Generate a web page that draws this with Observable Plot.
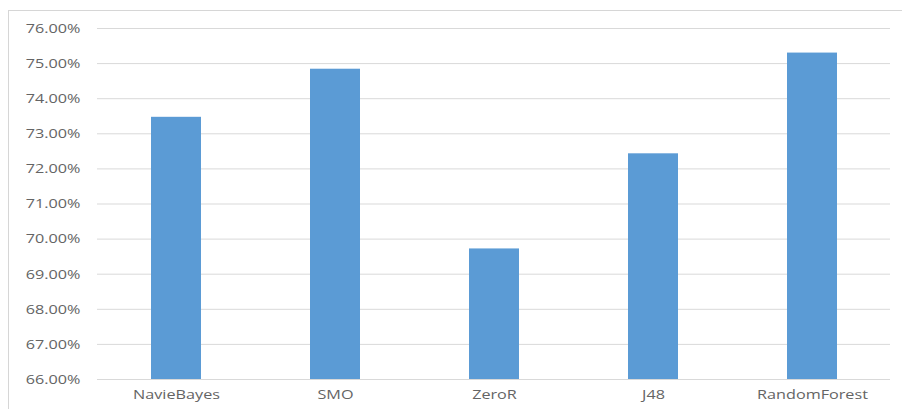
<!DOCTYPE html>
<html>
<head>
<meta charset="utf-8">
<script src="https://cdn.jsdelivr.net/npm/d3@7"></script>
<script src="https://cdn.jsdelivr.net/npm/@observablehq/plot@0.6"></script>
<style>
  html, body { margin: 0; padding: 0; background: #ffffff; }
  #chart { position: relative; width: 902px; height: 409px; overflow: hidden; }
  #chart svg { position: absolute; left: 0; top: 0; }
  #border {
    position: absolute; left: 8px; top: 10px; right: -2px; bottom: -2px;
    border-left: 1px solid #d6d6d6; border-top: 1px solid #d6d6d6;
    pointer-events: none;
  }
</style>
</head>
<body>
<div id="chart"><div id="border"></div></div>
<script>
// Classifier accuracy (%)
const classifiers = ["NavieBayes", "SMO", "ZeroR", "J48", "RandomForest"];
const accuracy = [73.47, 74.84, 69.72, 72.43, 75.30];
const yTicks = [66, 67, 68, 69, 70, 71, 72, 73, 74, 75, 76];

const rows = classifiers.map((name, i) => ({name, value: accuracy[i]}));

const chart = Plot.plot({
  width: 902,
  height: 409,
  marginLeft: 97,
  marginRight: 12,
  marginTop: 28,
  marginBottom: 30,
  style: {fontFamily: "'Open Sans', sans-serif", fontSize: "13.5px", color: "#595959", background: "transparent"},
  x: {domain: classifiers, paddingInner: 0.686, paddingOuter: 0.33, label: null},
  y: {domain: [66, 76], label: null},
  marks: [
    Plot.gridY(yTicks, {stroke: "#d9d9d9", strokeOpacity: 1, strokeWidth: 1}),
    Plot.barY(rows, {x: "name", y1: 66, y2: "value", fill: "#5b9bd5"}),
    Plot.axisY(yTicks, {tickSize: 0, tickPadding: 17, tickFormat: d => d.toFixed(2) + "%", label: null, fill: "#646464"}),
    Plot.axisX({tickSize: 0, tickPadding: 10, label: null, fill: "#646464"})
  ]
});

const host = document.getElementById("chart");
host.insertBefore(chart, host.firstChild);

// Widen the label glyphs horizontally
chart.querySelectorAll("[aria-label^='y-axis'] text, [aria-label^='x-axis'] text").forEach(t => {
  const w = t.getComputedTextLength();
  t.setAttribute("textLength", (w * 1.2).toFixed(1));
  t.setAttribute("lengthAdjust", "spacingAndGlyphs");
});
</script>
</body>
</html>
